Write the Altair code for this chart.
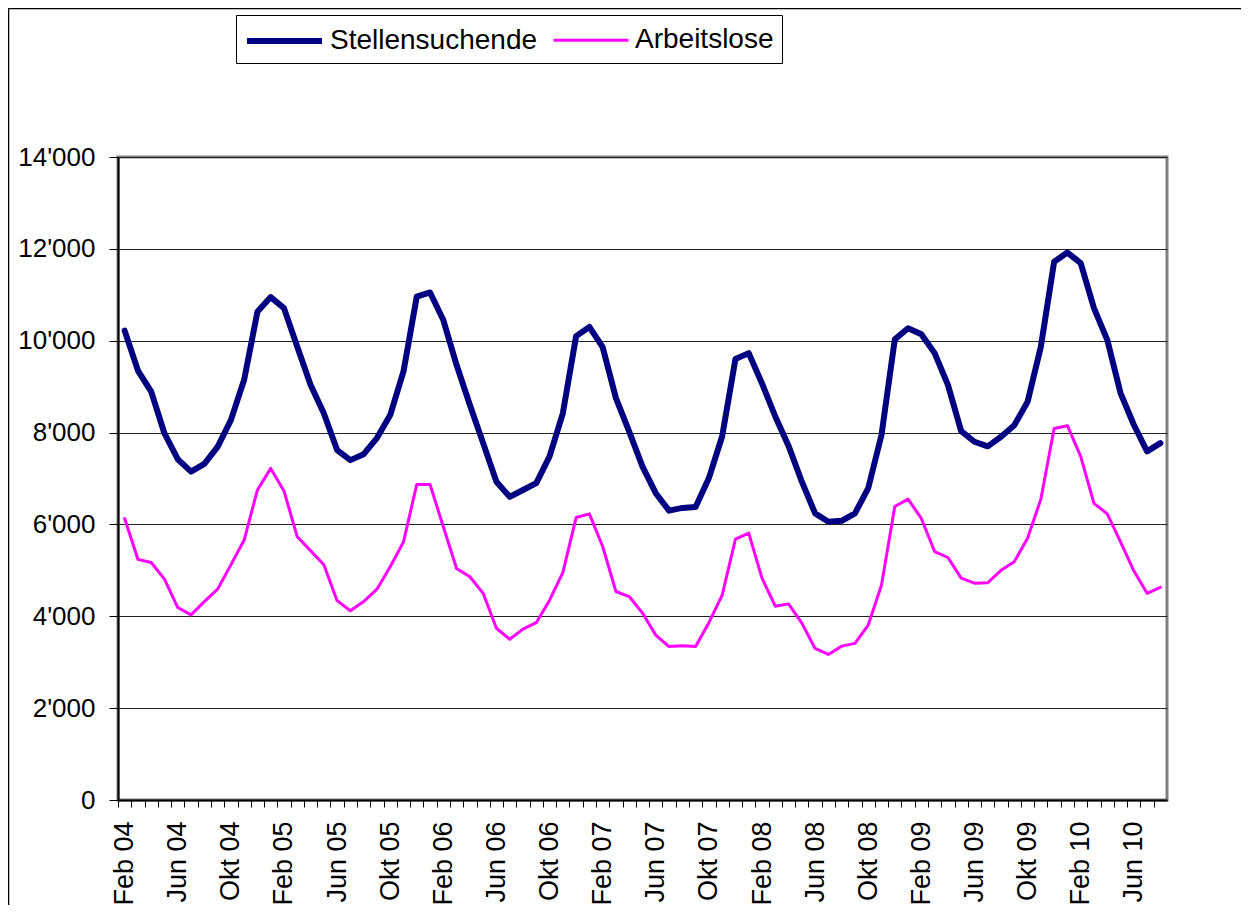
import altair as alt
import pandas as pd

month_names = ["Jan", "Feb", "Mär", "Apr", "Mai", "Jun", "Jul", "Aug", "Sep", "Okt", "Nov", "Dez"]
start_year = 4
start_month = 1  # index of "Feb"
n_months = 79

stellensuchende = [10220, 9350, 8890, 7980, 7420, 7150, 7320, 7690, 8270, 9150, 10630, 10950,
                   10710, 9870, 9040, 8420, 7620, 7400, 7530, 7880, 8380, 9330, 10960, 11050,
                   10450, 9470, 8600, 7770, 6930, 6600, 6750, 6900, 7480, 8420, 10100, 10300,
                   9860, 8750, 8020, 7260, 6680, 6300, 6360, 6380, 7010, 7920, 9600, 9730,
                   9070, 8350, 7710, 6930, 6240, 6060, 6080, 6240, 6790, 7950, 10030, 10270,
                   10140, 9730, 9040, 8030, 7800, 7700, 7910, 8160, 8670, 9870, 11720, 11920,
                   11690, 10710, 10020, 8860, 8170, 7590, 7770]

arbeitslose = [6130, 5240, 5170, 4810, 4190, 4030, 4320, 4590, 5120, 5660, 6750, 7220,
               6730, 5730, 5430, 5120, 4340, 4120, 4320, 4590, 5080, 5620, 6870, 6870,
               5950, 5040, 4860, 4500, 3740, 3500, 3720, 3860, 4350, 4950, 6150, 6230,
               5520, 4540, 4430, 4070, 3590, 3340, 3360, 3340, 3860, 4460, 5680, 5810,
               4830, 4220, 4270, 3850, 3300, 3170, 3350, 3410, 3810, 4680, 6390, 6550,
               6130, 5410, 5280, 4830, 4720, 4730, 5000, 5190, 5700, 6550, 8090, 8150,
               7480, 6460, 6230, 5620, 4990, 4500, 4630]

series_names = ["Stellensuchende", "Arbeitslose"]
series_colors = ["#000080", "#FF00FF"]
series_widths = [6, 3]
y_ticks = [0, 2000, 4000, 6000, 8000, 10000, 12000, 14000]

categories = []
for k in range(n_months):
    m = start_month + k
    categories.append(f"{month_names[m % 12]} {start_year + m // 12:02d}")

rows = []
for name, vals in zip(series_names, [stellensuchende, arbeitslose]):
    for cat, v in zip(categories, vals):
        rows.append({"Monat": cat, "Serie": name, "Wert": v})
df = pd.DataFrame(rows)

FONT = "Liberation Sans"
PLOT_W = 1049
HALF_STEP = PLOT_W / n_months / 2

legend = alt.Legend(
    orient="none", legendX=118, legendY=-142, direction="horizontal", title=None,
    strokeColor="black", padding=8, labelFontSize=28, labelFont=FONT, labelColor="black",
    labelLimit=0, symbolType="M-1,0H4", symbolSize=900, columnPadding=9, labelOffset=50,
)

lines = alt.Chart(df).mark_line(strokeJoin="round", strokeCap="round").encode(
    x=alt.X(
        "Monat:N", sort=categories,
        scale=alt.Scale(type="point", padding=0.5),
        axis=alt.Axis(
            title=None, grid=False, labelOverlap=False, orient="bottom",
            tickOffset=-HALF_STEP, labelOffset=HALF_STEP,
            labelExpr="indexof(['Feb','Jun','Okt'], slice(datum.value, 0, 3)) >= 0 ? datum.value : ''",
            labelAngle=270, labelAlign="right", labelBaseline="middle",
            labelFontSize=27, labelFont=FONT, labelColor="black", labelPadding=14,
            tickSize=7, tickColor="black", domainColor="black", domainWidth=2,
        ),
    ),
    y=alt.Y(
        "Wert:Q", scale=alt.Scale(domain=[0, 14000], nice=False),
        axis=alt.Axis(
            title=None, values=y_ticks, grid=True, gridColor="#222", gridWidth=1,
            labelExpr="replace(format(datum.value, ','), ',', \"'\")",
            labelFontSize=26, labelFont=FONT, labelColor="black", labelPadding=14,
            tickSize=9, tickColor="black", domainColor="black", domainWidth=2,
        ),
    ),
    color=alt.Color("Serie:N", scale=alt.Scale(domain=series_names, range=series_colors),
                    sort=series_names, legend=legend),
    strokeWidth=alt.StrokeWidth("Serie:N", scale=alt.Scale(domain=series_names, range=series_widths),
                                sort=series_names, legend=legend),
)

frame = alt.Chart(alt.Data(values=[{"f": 1}])).mark_rect(
    fill="white", fillOpacity=0, stroke="black", strokeWidth=1.5
).encode(
    x=alt.value(-109.5), x2=alt.value(1300), y=alt.value(-148.5), y2=alt.value(1000)
)

chart = alt.layer(frame, lines).properties(
    width=PLOT_W, height=643,
    padding={"left": 110, "top": 149, "right": 74, "bottom": 105},
    autosize=alt.AutoSizeParams(type="none"),
).configure_view(stroke="#808080", strokeWidth=3)

chart.save("out.html", embed_options={"renderer": "svg", "actions": False})
